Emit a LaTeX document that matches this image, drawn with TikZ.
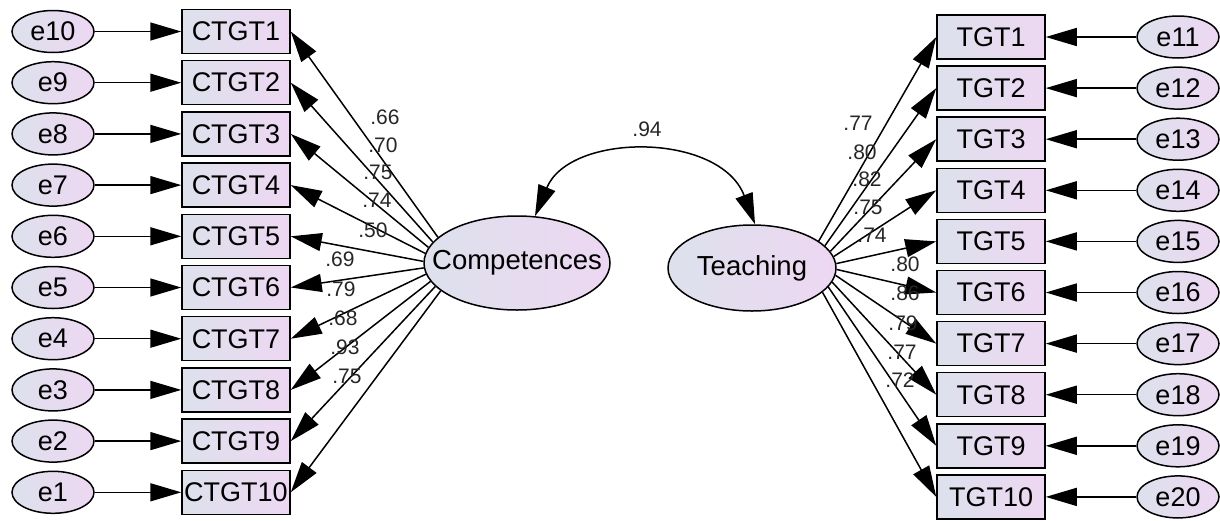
\documentclass[tikz,border=0pt]{standalone}
\usepackage{fontspec}
\setmainfont{Liberation Sans}
\usetikzlibrary{shapes.geometric,arrows.meta}
\definecolor{shL}{RGB}{221,225,236}
\definecolor{shR}{RGB}{237,215,242}
\tikzset{
  obs/.style={draw, line width=1.5pt, rectangle, minimum width=108pt, minimum height=44pt, inner sep=0pt,
    left color=shL, right color=shR, font=\fontsize{27}{27}\selectfont},
  err/.style={draw, line width=1.5pt, ellipse, minimum width=82pt, minimum height=42pt, inner sep=0pt,
    left color=shL, right color=shR, font=\fontsize{27}{27}\selectfont},
  lat/.style={draw, line width=1.5pt, ellipse, inner ysep=0pt,
    left color=shL, right color=shR, font=\fontsize{27.5}{27.5}\selectfont},
  arr/.style={line width=1.5pt, -{Triangle[length=31pt,width=18pt]}},
  dbl/.style={line width=1.5pt, {Triangle[length=31pt,width=18pt]}-{Triangle[length=31pt,width=18pt]}},
  coef/.style={inner sep=0pt, font=\fontsize{21}{21}\selectfont, text=black!85}
}
\begin{document}
\begin{tikzpicture}[x=1pt,y=-1pt]
\useasboundingbox (0,0) rectangle (1220,520);
% latent variables
\node[lat, inner xsep=-20pt, minimum width=186pt, minimum height=94pt] (comp) at (517,263) {Competences};
\node[lat, inner xsep=0pt, minimum width=168pt, minimum height=86pt] (teach) at (752,268) {Teaching};
% left side
\foreach \i/\e in {1/10,2/9,3/8,4/7,5/6,6/5,7/4,8/3,9/2,10/1}{
  \pgfmathsetmacro{\ang}{162+4.3*(\i-1)}
  \node[obs] (c\i) at (236,{31.5+51.2*(\i-1)}) {CTGT\i};
  \node[err] (e\e) at (53,{31.5+51.2*(\i-1)}) {e\e};
  \draw[arr] (e\e) -- (c\i);
  \draw[arr] (comp.\ang) -- (c\i.east);
}
% right side
\foreach \i in {1,...,10}{
  \pgfmathtruncatemacro{\e}{\i+10}
  \pgfmathsetmacro{\ang}{22-4.6*(\i-1)}
  \node[obs] (t\i) at (991,{37+51.1*(\i-1)}) {TGT\i};
  \node[err] (e\e) at (1178,{37+51.1*(\i-1)}) {e\e};
  \draw[arr] (e\e) -- (t\i);
  \draw[arr] (teach.\ang) -- (t\i.west);
}
% covariance
\draw[dbl] (comp.69) .. controls (570,132) and (720,132) .. (teach.86);
\node[coef] (r) at (647,129) {.94};
% left coefficients
\node[coef] (l1) at (385,117) {.66};
\node[coef] (l2) at (383,145) {.70};
\node[coef] (l3) at (378,172) {.75};
\node[coef] (l4) at (377,200) {.74};
\node[coef] (l5) at (373,230) {.50};
\node[coef] (l6) at (340,259) {.69};
\node[coef] (l7) at (341,289) {.79};
\node[coef] (l8) at (343,318) {.68};
\node[coef] (l9) at (345,347) {.93};
\node[coef] (l10) at (347,376) {.75};
% right coefficients
\node[coef] (r1) at (858,123) {.77};
\node[coef] (r2) at (862,152) {.80};
\node[coef] (r3) at (867,179) {.82};
\node[coef] (r4) at (868,207) {.75};
\node[coef] (r5) at (872,235) {.74};
\node[coef] (r6) at (905,264) {.80};
\node[coef] (r7) at (905,293) {.86};
\node[coef] (r8) at (903,323) {.79};
\node[coef] (r9) at (902,352) {.77};
\node[coef] (r10) at (900,380) {.72};
\end{tikzpicture}
\end{document}
